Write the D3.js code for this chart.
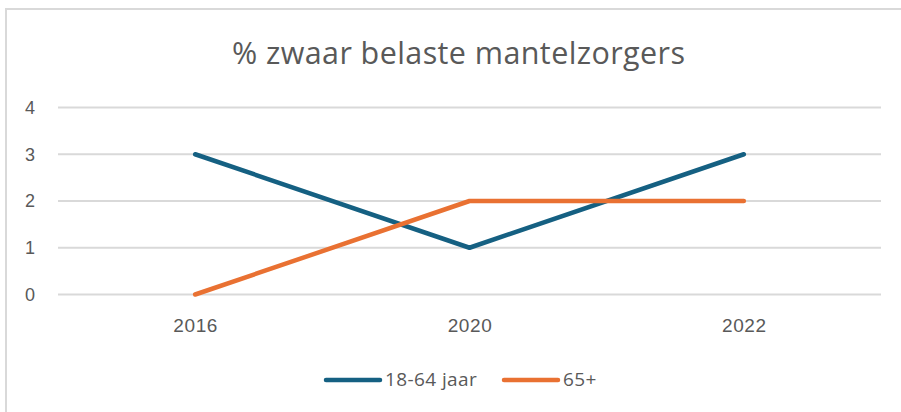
<!DOCTYPE html>
<html lang="nl">
<head>
<meta charset="UTF-8">
<script src="https://d3js.org/d3.v7.min.js"></script>
<style>
body{
	margin: 0;
	background-color: white;
}
.title{
	font-family: "Open Sans", sans-serif;
	fill: #595959;
}
.axisY text, .axisX text{
	font-family: "Liberation Sans", Arial, sans-serif;
	fill: #595959;
}
.legend text{
	font-family: "Open Sans", sans-serif;
	fill: #595959;
}
</style>
</head>
<body>
<svg width="901" height="412"></svg>
<script>
// data
const years = ["2016", "2020", "2022"]
const jong = [3, 1, 3]      // 18-64 jaar
const oud = [0, 2, 2]       // 65+
const seriesNames = ["18-64 jaar", "65+"]
const yTicks = [0, 1, 2, 3, 4]

const svg = d3.select("svg")
const colors = ["#156082", "#E97132"]

// frame (only left and top edge visible)
svg.append("path")
	.attr("d", "M6,412 V9 H901")
	.style("fill", "none")
	.style("stroke", "#d9d9d9")
	.style("stroke-width", 2)

svg.append("text")
	.attr("class", "title")
	.attr("x", 232)
	.attr("y", 63.5)
	.attr("textLength", 453)
	.style("font-size", "30.5px")
	.text("% zwaar belaste mantelzorgers")

var x = d3.scalePoint()
	.domain(years)
	.range([58, 881])
	.padding(0.5)

var y = d3.scaleLinear()
	.domain([0, 4])
	.range([294.5, 107.5])

// gridlines
svg.append("g").selectAll("line")
	.data(yTicks)
	.join("line")
	.attr("x1", 58)
	.attr("x2", 881)
	.attr("y1", d => y(d))
	.attr("y2", d => y(d))
	.style("stroke", "#d9d9d9")
	.style("stroke-width", 2)

var axisY = svg.append("g")
	.attr("class", "axisY")
	.attr("transform", "translate(58,0)")
	.call(d3.axisLeft(y).tickValues(yTicks).tickFormat(d3.format("d")).tickSize(0).tickPadding(23))
axisY.select(".domain").remove()
axisY.selectAll("text").style("font-size", "18px")

var axisX = svg.append("g")
	.attr("class", "axisX")
	.attr("transform", "translate(0,294.5)")
	.call(d3.axisBottom(x).tickSize(0).tickPadding(24))
axisX.select(".domain").remove()
axisX.selectAll("text").style("font-size", "19px").style("letter-spacing", "0.6px")

var line = d3.line()
	.x((d, i) => x(years[i]))
	.y(d => y(d))

;[jong, oud].forEach(function(s, i){
	svg.append("path")
		.datum(s)
		.attr("d", line)
		.style("fill", "none")
		.style("stroke", colors[i])
		.style("stroke-width", 4.5)
		.style("stroke-linecap", "round")
		.style("stroke-linejoin", "round")
})

// legend
var legendX = [326, 504]
var legend = svg.append("g").attr("class", "legend")
seriesNames.forEach(function(n, i){
	legend.append("line")
		.attr("x1", legendX[i])
		.attr("x2", legendX[i] + 54)
		.attr("y1", 380)
		.attr("y2", 380)
		.style("stroke", colors[i])
		.style("stroke-width", 4.5)
		.style("stroke-linecap", "round")
	legend.append("text")
		.attr("x", legendX[i] + 59)
		.attr("y", 386)
		.style("font-size", "19px")
		.style("letter-spacing", "0.4px")
		.text(n)
})
</script>
</body>
</html>
